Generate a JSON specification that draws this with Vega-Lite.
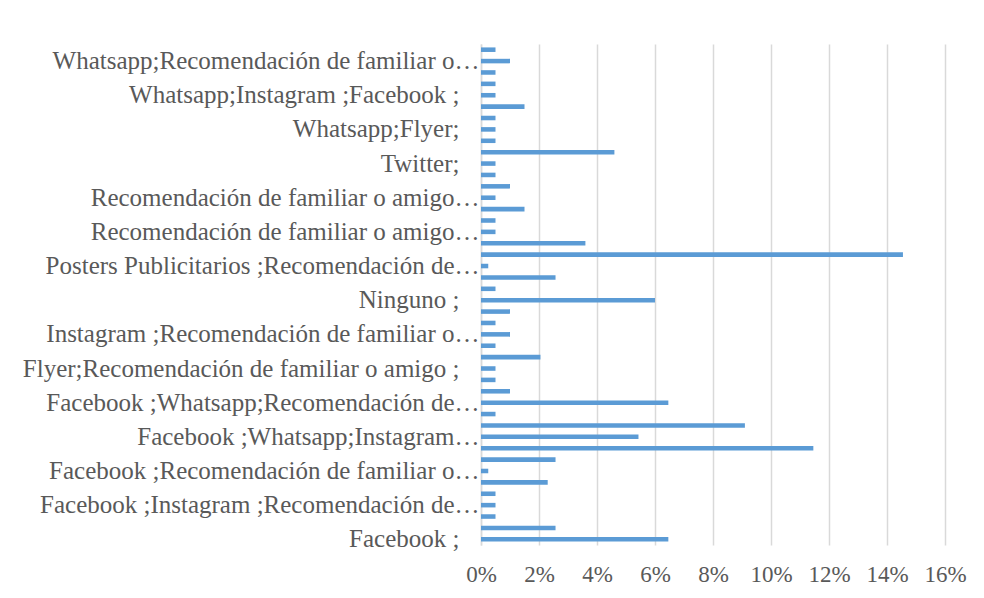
{
  "$schema": "https://vega.github.io/schema/vega-lite/v6.json",
  "width": 464,
  "height": 501,
  "autosize": "none",
  "padding": {"left": 481, "top": 44, "right": 39, "bottom": 53},
  "background": "white",
  "config": {
    "view": {"stroke": null},
    "font": "Times New Roman, Liberation Serif, DejaVu Serif, serif"
  },
  "data": {
    "values": [
      {"fuente": "Whatsapp;Twitter;", "pct": 0.005},
      {"fuente": "Whatsapp;Recomendación de familiar o amigo ;", "pct": 0.010},
      {"fuente": "Whatsapp;Posters Publicitarios ;", "pct": 0.005},
      {"fuente": "Whatsapp;Instagram ;Recomendación de familiar o amigo ;", "pct": 0.005},
      {"fuente": "Whatsapp;Instagram ;Facebook ;", "pct": 0.005},
      {"fuente": "Whatsapp;Instagram ;", "pct": 0.015},
      {"fuente": "Whatsapp;Flyer;Instagram ;", "pct": 0.005},
      {"fuente": "Whatsapp;Flyer;", "pct": 0.005},
      {"fuente": "Whatsapp;Facebook ;", "pct": 0.005},
      {"fuente": "Whatsapp;", "pct": 0.046},
      {"fuente": "Twitter;", "pct": 0.005},
      {"fuente": "Recomendación de familiar o amigo ;Whatsapp;Facebook ;", "pct": 0.005},
      {"fuente": "Recomendación de familiar o amigo ;Whatsapp;", "pct": 0.010},
      {"fuente": "Recomendación de familiar o amigo ;Twitter;", "pct": 0.005},
      {"fuente": "Recomendación de familiar o amigo ;Instagram ;", "pct": 0.015},
      {"fuente": "Recomendación de familiar o amigo ;Flyer;", "pct": 0.005},
      {"fuente": "Recomendación de familiar o amigo ;Facebook ;Whatsapp;", "pct": 0.005},
      {"fuente": "Recomendación de familiar o amigo ;Facebook ;", "pct": 0.036},
      {"fuente": "Recomendación de familiar o amigo ;", "pct": 0.1455},
      {"fuente": "Posters Publicitarios ;Recomendación de familiar o amigo ;", "pct": 0.0025},
      {"fuente": "Posters Publicitarios ;Facebook ;", "pct": 0.0257},
      {"fuente": "Posters Publicitarios ;", "pct": 0.005},
      {"fuente": "Ninguno ;", "pct": 0.060},
      {"fuente": "Instagram ;Whatsapp;Facebook ;", "pct": 0.010},
      {"fuente": "Instagram ;Whatsapp;", "pct": 0.005},
      {"fuente": "Instagram ;Recomendación de familiar o amigo ;", "pct": 0.010},
      {"fuente": "Instagram ;Facebook ;", "pct": 0.005},
      {"fuente": "Instagram ;", "pct": 0.0205},
      {"fuente": "Flyer;Recomendación de familiar o amigo ;", "pct": 0.005},
      {"fuente": "Flyer;Posters Publicitarios ;", "pct": 0.005},
      {"fuente": "Flyer;", "pct": 0.010},
      {"fuente": "Facebook ;Whatsapp;Recomendación de familiar o amigo ;", "pct": 0.0646},
      {"fuente": "Facebook ;Whatsapp;Posters Publicitarios ;", "pct": 0.005},
      {"fuente": "Facebook ;Whatsapp;Instagram ;Twitter;", "pct": 0.091},
      {"fuente": "Facebook ;Whatsapp;Instagram ;Recomendación de familiar o amigo ;", "pct": 0.0543},
      {"fuente": "Facebook ;Whatsapp;Instagram ;", "pct": 0.1146},
      {"fuente": "Facebook ;Whatsapp;", "pct": 0.0257},
      {"fuente": "Facebook ;Recomendación de familiar o amigo ;", "pct": 0.0025},
      {"fuente": "Facebook ;Posters Publicitarios ;", "pct": 0.023},
      {"fuente": "Facebook ;Instagram ;Whatsapp;", "pct": 0.005},
      {"fuente": "Facebook ;Instagram ;Recomendación de familiar o amigo ;", "pct": 0.005},
      {"fuente": "Facebook ;Instagram ;", "pct": 0.005},
      {"fuente": "Facebook ;Flyer;", "pct": 0.0257},
      {"fuente": "Facebook ;", "pct": 0.0646}
    ]
  },
  "mark": {"type": "bar", "color": "#5B9BD5"},
  "encoding": {
    "y": {
      "field": "fuente",
      "type": "nominal",
      "sort": null,
      "scale": {"paddingInner": 0.6, "paddingOuter": 0.3},
      "axis": {
        "title": null,
        "values": [
          "Facebook ;",
          "Facebook ;Instagram ;Recomendación de familiar o amigo ;",
          "Facebook ;Recomendación de familiar o amigo ;",
          "Facebook ;Whatsapp;Instagram ;Recomendación de familiar o amigo ;",
          "Facebook ;Whatsapp;Recomendación de familiar o amigo ;",
          "Flyer;Recomendación de familiar o amigo ;",
          "Instagram ;Recomendación de familiar o amigo ;",
          "Ninguno ;",
          "Posters Publicitarios ;Recomendación de familiar o amigo ;",
          "Recomendación de familiar o amigo ;Facebook ;Whatsapp;",
          "Recomendación de familiar o amigo ;Twitter;",
          "Twitter;",
          "Whatsapp;Flyer;",
          "Whatsapp;Instagram ;Facebook ;",
          "Whatsapp;Recomendación de familiar o amigo ;"
        ],
        "labelExpr": "length(datum.label) <= 41 ? datum.label : substring(datum.label, 0, lastindexof(substring(datum.label, 0, 42), ' ')) + '…'",
        "labelPadding": {"condition": {"test": "length(datum.value) <= 41", "value": 22}, "value": 2},
        "ticks": false,
        "grid": false,
        "domain": true,
        "domainColor": "#d9d9d9",
        "domainWidth": 1.5,
        "labelFont": "Times New Roman, Liberation Serif, DejaVu Serif, serif",
        "labelFontSize": 25,
        "labelColor": "#595959",
        "labelLimit": 0
      }
    },
    "x": {
      "field": "pct",
      "type": "quantitative",
      "scale": {"domain": [0, 0.16]},
      "axis": {
        "title": null,
        "format": ".0%",
        "values": [0, 0.02, 0.04, 0.06, 0.08, 0.1, 0.12, 0.14, 0.16],
        "grid": true,
        "gridColor": "#d9d9d9",
        "gridWidth": 1.5,
        "domain": false,
        "ticks": false,
        "labelOverlap": false,
        "labelFlush": false,
        "labelFont": "Times New Roman, Liberation Serif, DejaVu Serif, serif",
        "labelFontSize": 23,
        "labelColor": "#595959",
        "labelPadding": 18
      }
    }
  }
}
